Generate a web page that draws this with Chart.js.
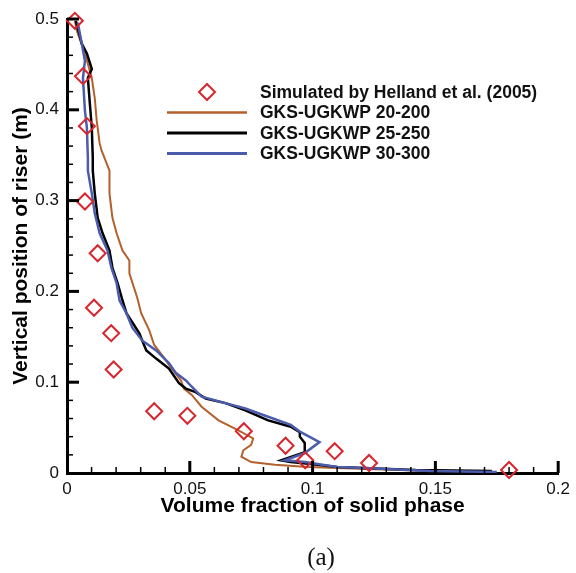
<!DOCTYPE html>
<html>
<head>
<meta charset="utf-8">
<script src="https://cdn.jsdelivr.net/npm/chart.js@4.4.1/dist/chart.umd.min.js"></script>
<style>
html, body { margin: 0; padding: 0; background: #fff; }
#wrap { width: 576px; height: 573px; }
</style>
</head>
<body>
<div id="wrap"><canvas id="riser" width="576" height="573"></canvas></div>
<script>
// solid volume fraction (x) vs height in the riser (y)
let hellandX = [0.0032, 0.0065, 0.0081, 0.0073, 0.0125, 0.011, 0.018, 0.019, 0.0355, 0.049, 0.072, 0.089, 0.097, 0.109, 0.123, 0.180];
let hellandY = [0.498, 0.437, 0.382, 0.299, 0.242, 0.182, 0.154, 0.114, 0.068, 0.063, 0.046, 0.030, 0.014, 0.024, 0.011, 0.0033];

let run200X = [0.0032, 0.0040, 0.0073, 0.0101, 0.0113, 0.0121, 0.0133, 0.0141, 0.0173, 0.0173, 0.0185, 0.0202, 0.0226, 0.0254, 0.0254, 0.0286, 0.0302, 0.0335, 0.0355, 0.0395, 0.0423, 0.0464, 0.0476, 0.0508, 0.0548, 0.0617, 0.0698, 0.0758, 0.0750, 0.0718, 0.0710, 0.0750, 0.0847, 0.098, 0.122, 0.149];
let run200Y = [0.498, 0.487, 0.462, 0.435, 0.413, 0.388, 0.363, 0.355, 0.333, 0.308, 0.281, 0.264, 0.245, 0.234, 0.220, 0.193, 0.176, 0.157, 0.141, 0.127, 0.116, 0.102, 0.093, 0.086, 0.073, 0.058, 0.047, 0.038, 0.031, 0.025, 0.018, 0.012, 0.009, 0.0066, 0.0044, 0.0022];

let run250X = [0.0036, 0.0060, 0.0081, 0.0101, 0.0085, 0.0093, 0.0101, 0.0105, 0.0105, 0.0113, 0.0125, 0.0145, 0.0173, 0.0185, 0.0206, 0.0226, 0.0242, 0.0294, 0.0323, 0.0363, 0.0415, 0.0456, 0.0484, 0.0524, 0.0565, 0.0645, 0.0726, 0.0819, 0.0911, 0.0948, 0.0948, 0.0968, 0.0968, 0.0871, 0.0911, 0.0992, 0.110, 0.142, 0.173];
let run250Y = [0.498, 0.473, 0.462, 0.445, 0.435, 0.407, 0.380, 0.347, 0.333, 0.308, 0.281, 0.264, 0.245, 0.226, 0.209, 0.190, 0.176, 0.154, 0.135, 0.126, 0.115, 0.099, 0.093, 0.089, 0.082, 0.077, 0.069, 0.058, 0.051, 0.045, 0.040, 0.033, 0.023, 0.014, 0.012, 0.010, 0.0066, 0.0033, 0.0022];

let run300X = [0.0044, 0.0060, 0.0073, 0.0065, 0.0073, 0.0081, 0.0085, 0.0085, 0.0101, 0.0113, 0.0133, 0.0165, 0.0181, 0.0202, 0.0214, 0.0242, 0.0266, 0.0306, 0.0363, 0.0415, 0.0444, 0.0484, 0.0508, 0.0548, 0.0645, 0.0726, 0.0819, 0.0911, 0.0952, 0.1028, 0.0968, 0.0887, 0.0968, 0.110, 0.121, 0.148, 0.175];
let run300Y = [0.496, 0.473, 0.454, 0.435, 0.399, 0.380, 0.347, 0.333, 0.308, 0.286, 0.264, 0.245, 0.226, 0.209, 0.190, 0.176, 0.160, 0.146, 0.135, 0.121, 0.110, 0.102, 0.095, 0.084, 0.077, 0.071, 0.062, 0.053, 0.045, 0.034, 0.022, 0.014, 0.012, 0.0066, 0.0055, 0.0022, 0.0011];

let seriesNames = ['Simulated by Helland et al. (2005)', 'GKS-UGKWP 20-200', 'GKS-UGKWP 25-250', 'GKS-UGKWP 30-300'];
let xTicks = [0, 0.05, 0.1, 0.15, 0.2];
let yTicks = [0, 0.1, 0.2, 0.3, 0.4, 0.5];
let xTickLabels = ['0', '0.05', '0.1', '0.15', '0.2'];
let yTickLabels = ['0', '0.1', '0.2', '0.3', '0.4', '0.5'];

const colors = ['#d8262e', '#b4602c', '#000000', '#4a5cab'];
const SANS = '"Liberation Sans", Arial, Helvetica, sans-serif';

function zip(xs, ys) {
  return xs.map((v, i) => ({ x: v, y: ys[i] }));
}

// inward major/minor tick marks, legend box and panel letter
const decorations = {
  id: 'decorations',
  afterDraw(chart) {
    const { ctx, scales: { x, y } } = chart;
    const x0 = x.getPixelForValue(0), y0 = y.getPixelForValue(0);
    ctx.save();
    ctx.strokeStyle = '#000';
    ctx.lineCap = 'butt';
    for (let i = 1; i <= 20; i++) {
      const px = x.getPixelForValue(i * 0.01);
      const major = i % 5 === 0;
      ctx.lineWidth = major ? 3 : 1.5;
      ctx.beginPath();
      ctx.moveTo(px, y0);
      ctx.lineTo(px, y0 - (major ? 12 : 6));
      ctx.stroke();
    }
    for (let i = 1; i <= 25; i++) {
      const py = y.getPixelForValue(i * 0.02);
      const major = i % 5 === 0;
      ctx.lineWidth = major ? 3 : 1.5;
      ctx.beginPath();
      ctx.moveTo(x0, py);
      ctx.lineTo(x0 + (major ? 12 : 6), py);
      ctx.stroke();
    }

    // legend
    const lx = 167, lw = 80, tx = 260, top = 92, gap = 20.5;
    ctx.font = 'bold 17.5px ' + SANS;
    ctx.textBaseline = 'middle';
    ctx.textAlign = 'left';
    seriesNames.forEach((name, i) => {
      const ry = top + i * gap;
      if (i === 0) {
        const r = 8, cx = lx + lw / 2;
        ctx.strokeStyle = colors[0];
        ctx.lineWidth = 2;
        ctx.beginPath();
        ctx.moveTo(cx - r, ry);
        ctx.lineTo(cx, ry - r);
        ctx.lineTo(cx + r, ry);
        ctx.lineTo(cx, ry + r);
        ctx.closePath();
        ctx.stroke();
      } else {
        ctx.strokeStyle = colors[i];
        ctx.lineWidth = i === 1 ? 2.5 : 3;
        ctx.beginPath();
        ctx.moveTo(lx, ry);
        ctx.lineTo(lx + lw, ry);
        ctx.stroke();
      }
      ctx.fillStyle = '#111';
      ctx.fillText(name, tx, ry + 1);
    });

    ctx.font = '25px "Liberation Serif", "Times New Roman", serif';
    ctx.textAlign = 'center';
    ctx.textBaseline = 'alphabetic';
    ctx.fillStyle = '#111';
    ctx.fillText('(a)', 321, 565);
    ctx.restore();
  }
};

new Chart(document.getElementById('riser'), {
  type: 'scatter',
  data: {
    datasets: [
      {
        label: seriesNames[0],
        data: zip(hellandX, hellandY),
        pointStyle: 'rectRot',
        pointRadius: 8,
        pointBorderWidth: 2,
        pointBorderColor: colors[0],
        pointBackgroundColor: 'rgba(0,0,0,0)',
        showLine: false,
        clip: false,
        order: 0
      },
      {
        label: seriesNames[1],
        data: zip(run200X, run200Y),
        showLine: true,
        borderColor: colors[1],
        borderWidth: 2,
        pointRadius: 0,
        tension: 0,
        order: 3
      },
      {
        label: seriesNames[2],
        data: zip(run250X, run250Y),
        showLine: true,
        borderColor: colors[2],
        borderWidth: 2.5,
        pointRadius: 0,
        tension: 0,
        order: 2
      },
      {
        label: seriesNames[3],
        data: zip(run300X, run300Y),
        showLine: true,
        borderColor: colors[3],
        borderWidth: 2.5,
        pointRadius: 0,
        tension: 0,
        order: 1
      }
    ]
  },
  options: {
    responsive: false,
    animation: false,
    devicePixelRatio: 1,
    layout: { padding: { top: 19, right: 13, left: 0, bottom: 0 } },
    plugins: {
      legend: { display: false },
      tooltip: { enabled: false }
    },
    scales: {
      x: {
        type: 'linear',
        min: 0,
        max: 0.2,
        afterBuildTicks: s => { s.ticks = xTicks.map(v => ({ value: v })); },
        afterFit: s => { s.height = 100; },
        grid: { drawOnChartArea: false, drawTicks: false },
        border: { display: true, width: 3, color: '#000' },
        ticks: {
          padding: 6,
          color: '#111',
          font: { family: SANS, size: 17 },
          callback: (v) => xTickLabels[xTicks.indexOf(v)] ?? ''
        },
        title: {
          display: true,
          text: 'Volume fraction of solid phase',
          color: '#000',
          font: { family: SANS, size: 21, weight: 'bold' },
          padding: { top: 0, bottom: 54 }
        }
      },
      y: {
        type: 'linear',
        min: 0,
        max: 0.5,
        afterBuildTicks: s => { s.ticks = yTicks.map(v => ({ value: v })); },
        afterFit: s => { s.width = 67; },
        grid: { drawOnChartArea: false, drawTicks: false },
        border: { display: true, width: 3, color: '#000' },
        ticks: {
          padding: 8,
          color: '#111',
          font: { family: SANS, size: 17 },
          callback: (v) => yTickLabels[yTicks.indexOf(v)] ?? ''
        },
        title: {
          display: true,
          text: 'Vertical position of riser (m)',
          color: '#000',
          font: { family: SANS, size: 21, weight: 'bold' },
          padding: { top: 9, bottom: 0 }
        }
      }
    }
  },
  plugins: [decorations]
});
</script>
</body>
</html>
